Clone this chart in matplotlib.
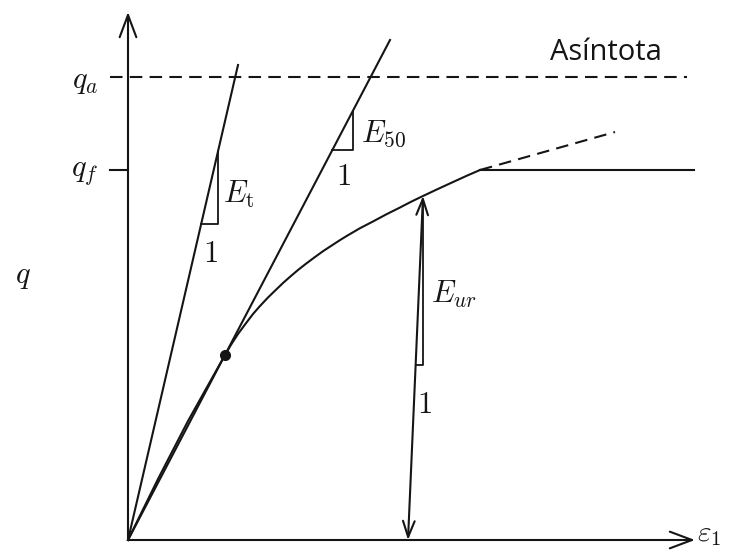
import matplotlib
matplotlib.use("Agg")
import matplotlib.pyplot as plt

plt.rcParams["mathtext.fontset"] = "cm"

# --- stress levels -------------------------------------------------------
q_a = 4.63          # asymptotic deviatoric stress
q_f = 3.70          # failure deviatoric stress
q_50 = q_f / 2      # half of failure stress
eps_50 = 0.97       # strain at q_50

# --- hyperbolic stress-strain curve (strain, deviatoric stress) ----------
curve_eps = [0.00, 0.30, 0.60, 0.97, 1.03, 1.10, 1.17, 1.25, 1.32, 1.40,
             1.47, 1.55, 1.62, 1.70, 1.78, 1.87, 1.95, 2.04, 2.12, 2.20,
             2.32, 2.44, 2.58, 2.72, 2.83, 2.95, 3.09, 3.24, 3.38, 3.52]
curve_q = [0.000, 0.610, 1.190, 1.850, 1.952, 2.060, 2.155, 2.260, 2.340,
           2.425, 2.493, 2.570, 2.632, 2.700, 2.763, 2.830, 2.888, 2.947,
           2.999, 3.048, 3.118, 3.180, 3.255, 3.325, 3.382, 3.440, 3.506,
           3.575, 3.639, 3.700]

# failure plateau and extrapolated branch beyond failure
plateau_eps = [3.52, 5.66]
plateau_q = [q_f, q_f]
extrap_eps = [3.52, 4.87]
extrap_q = [q_f, 4.08]

# asymptote
asym_eps = [-0.18, 5.59]
asym_q = [q_a, q_a]

# --- stiffness lines -----------------------------------------------------
et_eps = [0.0, 1.10]          # initial tangent E_i
et_q = [0.0, 4.75]
e50_eps = [0.0, 2.62]         # secant E_50
e50_q = [0.0, 5.00]
eur_eps = [2.80, 2.95]        # unloading / reloading E_ur
eur_q = [0.0, 3.44]

# slope triangles (base-left, base-right, top)
et_tri_eps = [0.732, 0.902, 0.902]
et_tri_q = [3.16, 3.16, 3.894]
e50_tri_eps = [2.044, 2.249, 2.249]
e50_tri_q = [3.90, 3.90, 4.291]
eur_tri_eps = [2.876, 2.946, 2.946]
eur_tri_q = [1.75, 1.75, 3.36]

# axis extents
eps_max = 5.67
q_max = 5.28

INK = "#151515"
LW = 1.5
FS = 22

fig = plt.figure(figsize=(7.44, 5.50), dpi=100)
ax = fig.add_axes([0, 0, 1, 1])
ax.set_xlim(-1.28, 6.16)
ax.set_ylim(-0.10, 5.40)
ax.axis("off")

# axes with open arrowheads
axis_arrow = dict(arrowstyle="->,head_length=1.6,head_width=0.6",
                  lw=LW, color=INK, shrinkA=0, shrinkB=0, mutation_scale=10)
ax.annotate("", xy=(0, q_max), xytext=(0, 0), arrowprops=axis_arrow)
ax.annotate("", xy=(eps_max, 0), xytext=(0, 0), arrowprops=axis_arrow)

# tick for q_f
ax.plot([-0.18, 0.0], [q_f, q_f], color=INK, lw=LW)

# asymptote and extrapolated branch (dashed)
ax.plot(asym_eps, asym_q, color=INK, lw=LW, linestyle=(0, (6, 3.5)))
ax.plot(extrap_eps, extrap_q, color=INK, lw=LW, linestyle=(0, (6, 3.5)))

# stress-strain curve and plateau
ax.plot(curve_eps, curve_q, color=INK, lw=LW, solid_joinstyle="round")
ax.plot(plateau_eps, plateau_q, color=INK, lw=LW)

# stiffness lines
ax.plot(et_eps, et_q, color=INK, lw=LW)
ax.plot(e50_eps, e50_q, color=INK, lw=LW)
ax.annotate("", xy=(eur_eps[1], eur_q[1]), xytext=(eur_eps[0], eur_q[0]),
            arrowprops=dict(arrowstyle="<->,head_length=1.15,head_width=0.42",
                            lw=LW, color=INK, shrinkA=0, shrinkB=0,
                            mutation_scale=10))

# slope triangles
for te, tq in [(et_tri_eps, et_tri_q), (e50_tri_eps, e50_tri_q),
               (eur_tri_eps, eur_tri_q)]:
    ax.plot(te, tq, color=INK, lw=1.3)

# point at q_50
ax.plot([eps_50], [q_50], "o", color=INK, ms=7)

# labels
ax.text(-0.30, 4.52, r"$q_a$", fontsize=FS, ha="right", va="baseline", color=INK)
ax.text(-0.30, 3.64, r"$q_f$", fontsize=FS, ha="right", va="baseline", color=INK)
ax.text(-1.13, 2.57, r"$q$", fontsize=FS, ha="left", va="baseline", color=INK)
ax.text(0.95, 3.37, r"$E_{\rm t}$", fontsize=FS, ha="left", va="baseline", color=INK)
ax.text(2.33, 3.98, r"$E_{50}$", fontsize=FS, ha="left", va="baseline", color=INK)
ax.text(3.03, 2.37, r"$E_{ur}$", fontsize=FS, ha="left", va="baseline", color=INK)
ax.text(0.82, 2.78, r"$1$", fontsize=FS, ha="center", va="baseline", color=INK)
ax.text(2.15, 3.55, r"$1$", fontsize=FS, ha="center", va="baseline", color=INK)
ax.text(2.96, 1.27, r"$1$", fontsize=FS, ha="center", va="baseline", color=INK)
ax.text(5.69, -0.01, r"$\varepsilon_1$", fontsize=21, ha="left", va="baseline", color=INK)
ax.text(4.22, 4.80, "Asíntota", fontsize=21, family="Open Sans",
        ha="left", va="baseline", color=INK)

fig.savefig("out.png", dpi=100)
